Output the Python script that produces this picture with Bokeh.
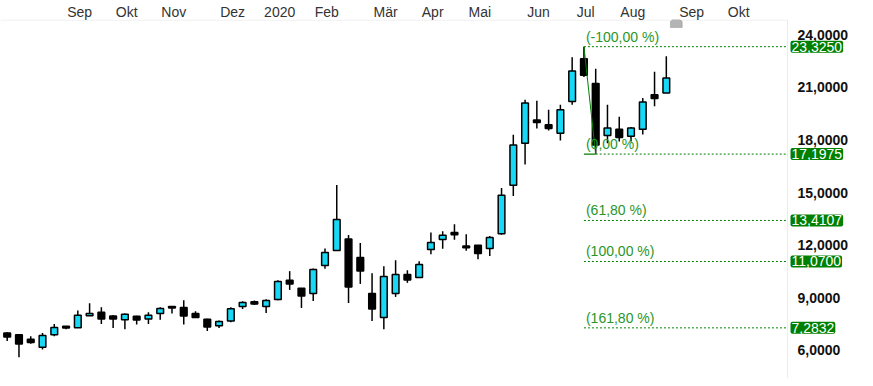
from bokeh.plotting import figure
from bokeh.models import Range1d, FixedTicker, Label, PolyAnnotation, Span
from bokeh.embed import file_html
from bokeh.resources import INLINE

# ---- weekly OHLC data ----
opens = [6.99, 6.89, 6.63, 6.18, 6.89, 7.37, 7.29, 7.98, 8.17, 7.96,
         7.75, 7.94, 7.79, 8.10, 8.50, 8.44, 8.11, 7.77, 7.41, 7.67,
         8.50, 8.78, 8.50, 8.90, 10.00, 9.54, 9.24, 10.84, 11.70, 12.35,
         11.30, 9.24, 7.87, 9.24, 10.33, 10.16, 11.76, 12.33, 12.73, 11.95,
         12.00, 11.81, 12.65, 15.42, 17.82, 19.14, 18.87, 18.39, 20.20, 22.64,
         21.23, 18.26, 18.62, 18.22, 18.62, 20.58, 20.68]
highs = [7.04, 6.91, 6.80, 6.99, 7.50, 7.37, 8.28, 8.69, 8.46, 8.00,
         8.11, 7.98, 8.17, 8.46, 8.52, 8.86, 8.23, 7.81, 7.71, 8.46,
         8.80, 8.84, 8.91, 10.00, 10.52, 9.55, 10.67, 11.81, 15.44, 12.58,
         12.12, 10.40, 10.80, 11.14, 10.57, 11.09, 12.73, 12.80, 13.20, 12.63,
         12.00, 12.52, 15.26, 18.30, 20.30, 20.24, 19.73, 20.01, 22.72, 23.325,
         22.07, 20.01, 19.33, 18.74, 20.40, 21.90, 22.78]
lows = [6.53, 5.61, 6.38, 6.05, 6.81, 7.20, 7.27, 7.97, 7.50, 7.27,
        7.20, 7.47, 7.50, 7.75, 8.10, 7.48, 7.86, 7.10, 7.27, 7.60,
        8.36, 8.59, 8.13, 8.86, 9.45, 8.42, 8.82, 10.65, 11.70, 8.70,
        9.79, 7.67, 7.21, 9.05, 9.85, 10.16, 11.48, 11.79, 12.31, 11.68,
        11.20, 11.39, 12.59, 14.81, 16.60, 18.66, 18.54, 17.97, 20.01, 21.60,
        17.1975, 17.82, 17.91, 17.91, 18.31, 19.92, 20.68]
closes = [6.76, 6.36, 6.45, 6.85, 7.31, 7.27, 8.00, 8.11, 7.79, 7.79,
          8.06, 7.73, 8.00, 8.39, 8.42, 7.96, 7.87, 7.33, 7.64, 8.38,
          8.73, 8.64, 8.84, 9.93, 9.79, 9.10, 10.61, 11.59, 13.47, 9.62,
          10.53, 8.36, 10.21, 10.33, 10.02, 10.90, 12.15, 12.56, 12.59, 11.85,
          11.53, 12.44, 14.85, 17.71, 20.11, 19.00, 18.66, 19.73, 21.94, 21.69,
          17.72, 18.68, 18.14, 18.68, 20.17, 20.37, 21.54]

month_labels = ["Sep", "Okt", "Nov", "Dez", "2020", "Feb", "Mär", "Apr",
                "Mai", "Jun", "Jul", "Aug", "Sep", "Okt"]
month_weeks = [6, 10, 14, 19, 23, 27, 32, 36, 40, 45, 49, 53, 58, 62]
y_ticks = [6, 9, 12, 15, 18, 21, 24]
fib_ratios = [-1.0, 0.0, 0.618, 1.0, 1.618]

UP = "#19d8f6"
DOWN = "#000000"
FIB = "#008000"
FONT = "Liberation Sans"

n = len(closes)
idx = list(range(n))

# layout (pixel-based scale matching the reference)
W, H = 865, 378
PX_PER_WEEK = 11.77
PX_PER_UNIT = 17.48
frame_top = 20
x_start = (0 - 6.7) / PX_PER_WEEK
x_end = (W - 6.7) / PX_PER_WEEK
axis_x = (787 - 6.7) / PX_PER_WEEK          # price-scale boundary
y_top = 24 + (35.3 - frame_top) / PX_PER_UNIT
y_bot = 24 - (H - 35.3) / PX_PER_UNIT

p = figure(width=W, height=H, output_backend="svg", toolbar_location=None,
           x_axis_location="above", y_axis_location=None,
           x_range=Range1d(x_start, x_end), y_range=Range1d(y_bot, y_top),
           min_border_left=0, min_border_bottom=0, min_border_right=0,
           min_border_top=0)
p.outline_line_color = None
p.background_fill_color = "white"
p.border_fill_color = "white"
p.xgrid.visible = False
p.ygrid.visible = False

# top month axis
xa = p.xaxis[0]
ticks_x = [w + 0.15 for w in month_weeks]
xa.ticker = FixedTicker(ticks=ticks_x)
xa.major_label_overrides = {t: lab for t, lab in zip(ticks_x, month_labels)}
xa.major_tick_line_color = None
xa.minor_tick_line_color = None
xa.major_tick_out = 0
xa.major_tick_in = 0
xa.major_label_standoff = 0
xa.axis_line_color = None
xa.major_label_text_font = FONT
xa.major_label_text_font_size = "14px"
xa.major_label_text_color = "#333333"

# frame borders of the price area
p.segment(x0=[x_start], y0=[y_top - 0.6 / PX_PER_UNIT], x1=[axis_x],
          y1=[y_top - 0.6 / PX_PER_UNIT], line_color="#ececec", line_width=1)
p.add_layout(Span(location=axis_x, dimension="height", line_color="#ececec",
                  line_width=1))

# price scale labels (right)
for t in y_ticks:
    p.add_layout(Label(x=axis_x, y=t, x_offset=10, text=f"{t:.4f}".replace(".", ","),
                       text_font=FONT, text_font_size="14px", text_font_style="bold",
                       text_color="#111111", text_baseline="middle",
                       text_align="left"))

# candles
colors = [UP if c >= o else DOWN for o, c in zip(opens, closes)]
tops = [max(o, c) for o, c in zip(opens, closes)]
bots = [min(o, c) for o, c in zip(opens, closes)]
p.segment(x0=idx, y0=lows, x1=idx, y1=highs, line_color="black", line_width=1.5)
p.vbar(x=idx, top=tops, bottom=bots, width=0.57, fill_color=colors,
       line_color="black", line_width=1.5)

# Fibonacci extension tool
hi = max(highs)
hi_i = highs.index(hi)
lo = min(lows[hi_i:])
lo_i = lows.index(lo)
diff = hi - lo
p.segment(x0=[hi_i], y0=[hi], x1=[lo_i], y1=[lo], line_color=FIB, line_width=1)
p.segment(x0=[hi_i], y0=[lo], x1=[lo_i], y1=[lo], line_color=FIB, line_width=1.2)
levels = [lo - r * diff for r in fib_ratios]
for r, lvl in zip(fib_ratios, levels):
    p.segment(x0=[lo_i if r == 0 else hi_i], y0=[lvl], x1=[axis_x], y1=[lvl],
              line_color=FIB, line_width=1, line_dash="2 2")
    pct = f"({r * 100:.2f} %)".replace(".", ",")
    p.add_layout(Label(x=hi_i, y=lvl, x_offset=2, y_offset=2, text=pct,
                       text_font=FONT, text_font_size="14px", text_color="#2a962a",
                       text_baseline="bottom", text_align="left"))
    val = f"{round(lvl, 4):.4f}".replace(".", ",")
    p.add_layout(Label(x=axis_x, y=lvl, x_offset=3, text=val,
                       text_font=FONT, text_font_size="14px", text_color="white",
                       text_baseline="middle", text_align="left",
                       background_fill_color=FIB, border_line_color=None,
                       padding=1, border_radius=2))

# small "today" marker at the top
mx = n - 1 + 0.85
p.add_layout(PolyAnnotation(
    xs=[mx - 0.5, mx - 0.5, mx, mx + 0.5, mx + 0.5],
    ys=[24.42, 24.76, 25.05, 24.76, 24.42],
    fill_color="#b4b4b4", fill_alpha=1, line_color="#666666", line_width=1))

open("out.html", "w").write(file_html(p, INLINE))
